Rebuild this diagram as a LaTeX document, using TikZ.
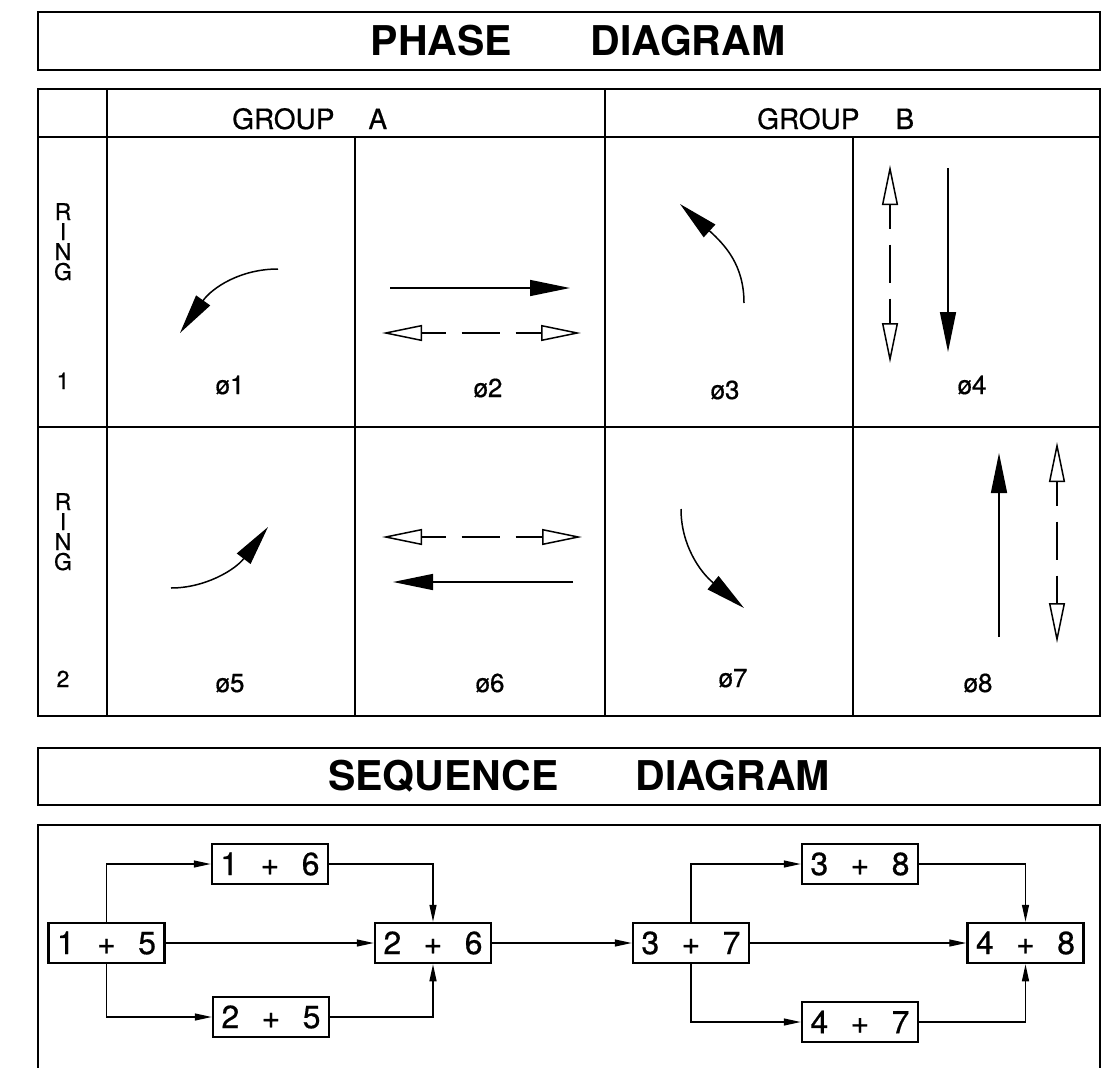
\documentclass[tikz,border=0pt]{standalone}
\usepackage{fontspec}
\setmainfont{TeX Gyre Heros}
\newfontfamily\medfont[FakeBold=0.6]{TeX Gyre Heros}
\usetikzlibrary{arrows.meta}
\begin{document}
\begin{tikzpicture}[x=1pt,y=-1pt,
  frame/.style={line width=2.5pt},
  big/.style={font=\fontsize{41}{41}\selectfont\bfseries, inner sep=0pt},
  grp/.style={font=\medfont\fontsize{28}{28}\selectfont, inner sep=0pt},
  ring/.style={font=\medfont\fontsize{23}{23}\selectfont, inner sep=0pt, anchor=base},
  ph/.style={font=\medfont\fontsize{26}{26}\selectfont, inner sep=0pt, anchor=base},
  solidarr/.style={line width=1.5pt, -{Triangle[length=40pt,width=16pt]}},
  curvarr/.style={line width=1.5pt, -{Triangle[length=40pt,width=17pt]}},
  openarr/.style={line width=1.5pt, {Triangle[open,length=40pt,width=16pt]}-{Triangle[open,length=40pt,width=16pt]}, dash pattern=on 24pt off 16pt on 38pt off 16pt on 60pt},
  seqbox/.style={draw, line width=2.5pt, minimum width=116pt, minimum height=40pt, inner sep=0pt, font=\medfont\fontsize{32}{32}\selectfont},
  conn/.style={line width=1.3pt, -{Triangle[length=17pt,width=7pt]}},
]
\useasboundingbox (0,0) rectangle (1103,1068);

% ---------- Phase diagram title ----------
\draw[frame] (38,12) rectangle (1100,70);
\node[big, anchor=base] (t1) at (578,55) {PHASE\hspace{79pt}DIAGRAM};

% ---------- Table ----------
\draw[frame] (38,89) rectangle (1100,716);
\draw[frame] (38,137) -- (1100,137);
\draw[frame] (38,427) -- (1100,427);
\draw[frame] (107,89) -- (107,716);
\draw[frame] (605,89) -- (605,716);
\draw[frame] (355,137) -- (355,716);
\draw[frame] (853,137) -- (853,716);

\node[grp, anchor=base west] (ga) at (232,129) {GROUP\hspace{34pt}A};
\node[grp, anchor=base west] (gb) at (757,129) {GROUP\hspace{36pt}B};

% ring 1
\node[ring] (r1a) at (63,220) {R};
\node[ring] (r1b) at (63,240) {I};
\node[ring] (r1c) at (63,260) {N};
\node[ring] (r1d) at (63,280) {G};
\node[ring] (n1) at (63,389) {1};
% ring 2
\node[ring] (r2a) at (63,510) {R};
\node[ring] (r2b) at (63,530) {I};
\node[ring] (r2c) at (63,550) {N};
\node[ring] (r2d) at (63,570) {G};
\node[ring] (n2) at (63,687) {2};

% phase labels
\node[ph] (p1) at (230,394) {ø1};
\node[ph] (p2) at (488,397) {ø2};
\node[ph] (p3) at (725,399) {ø3};
\node[ph] (p4) at (972,394) {ø4};
\node[ph] (p5) at (230,692) {ø5};
\node[ph] (p6) at (490,692) {ø6};
\node[ph] (p7) at (733,687) {ø7};
\node[ph] (p8) at (978,692) {ø8};

% phase 1
\draw[curvarr] (278,269) .. controls (240,269) and (212,288) .. (180,333);
% phase 2
\draw[solidarr] (390,288) -- (570,288);
\draw[openarr] (382,333) -- (581,333);
% phase 3
\draw[curvarr] (744,303) .. controls (744,265) and (725,245) .. (680,204);
% phase 4
\draw[openarr] (890,165) -- (890,363);
\draw[solidarr] (948,168) -- (948,352);
% phase 5
\draw[curvarr] (171,588) .. controls (205,588) and (235,570) .. (268,527);
% phase 6
\draw[openarr] (382,537) -- (582,537);
\draw[solidarr] (573,582) -- (393,582);
% phase 7
\draw[curvarr] (681,509) .. controls (681,545) and (700,572) .. (744,608);
% phase 8
\draw[solidarr] (999,637) -- (999,453);
\draw[openarr] (1057,442) -- (1057,643);

% ---------- Sequence diagram ----------
\draw[frame] (38,748) rectangle (1100,805);
\node[big, anchor=base] (t2) at (579,790) {SEQUENCE\hspace{77pt}DIAGRAM};
\draw[frame] (38,1068) -- (38,825) -- (1100,825) -- (1100,1068);

\node[seqbox] (b15) at (106.5,943) {1\hspace{0.7em}+\hspace{0.7em}5};
\node[seqbox] (b16) at (270,864) {1\hspace{0.7em}+\hspace{0.7em}6};
\node[seqbox] (b25) at (271,1017) {2\hspace{0.7em}+\hspace{0.7em}5};
\node[seqbox] (b26) at (433,943) {2\hspace{0.7em}+\hspace{0.7em}6};
\node[seqbox] (b37) at (691,943) {3\hspace{0.7em}+\hspace{0.7em}7};
\node[seqbox] (b38) at (860,864) {3\hspace{0.7em}+\hspace{0.7em}8};
\node[seqbox] (b47) at (860,1022) {4\hspace{0.7em}+\hspace{0.7em}7};
\node[seqbox] (b48) at (1025.5,943) {4\hspace{0.7em}+\hspace{0.7em}8};

\draw[conn] (b15.north) |- (b16.west);
\draw[conn] (b15.south) |- (b25.west);
\draw[conn] (b15.east) -- (b26.west);
\draw[conn] (b16.east) -| (b26.north);
\draw[conn] (b25.east) -| (b26.south);
\draw[conn] (b26.east) -- (b37.west);
\draw[conn] (b37.north) |- (b38.west);
\draw[conn] (b37.south) |- (b47.west);
\draw[conn] (b37.east) -- (b48.west);
\draw[conn] (b38.east) -| (b48.north);
\draw[conn] (b47.east) -| (b48.south);
\end{tikzpicture}
\end{document}
